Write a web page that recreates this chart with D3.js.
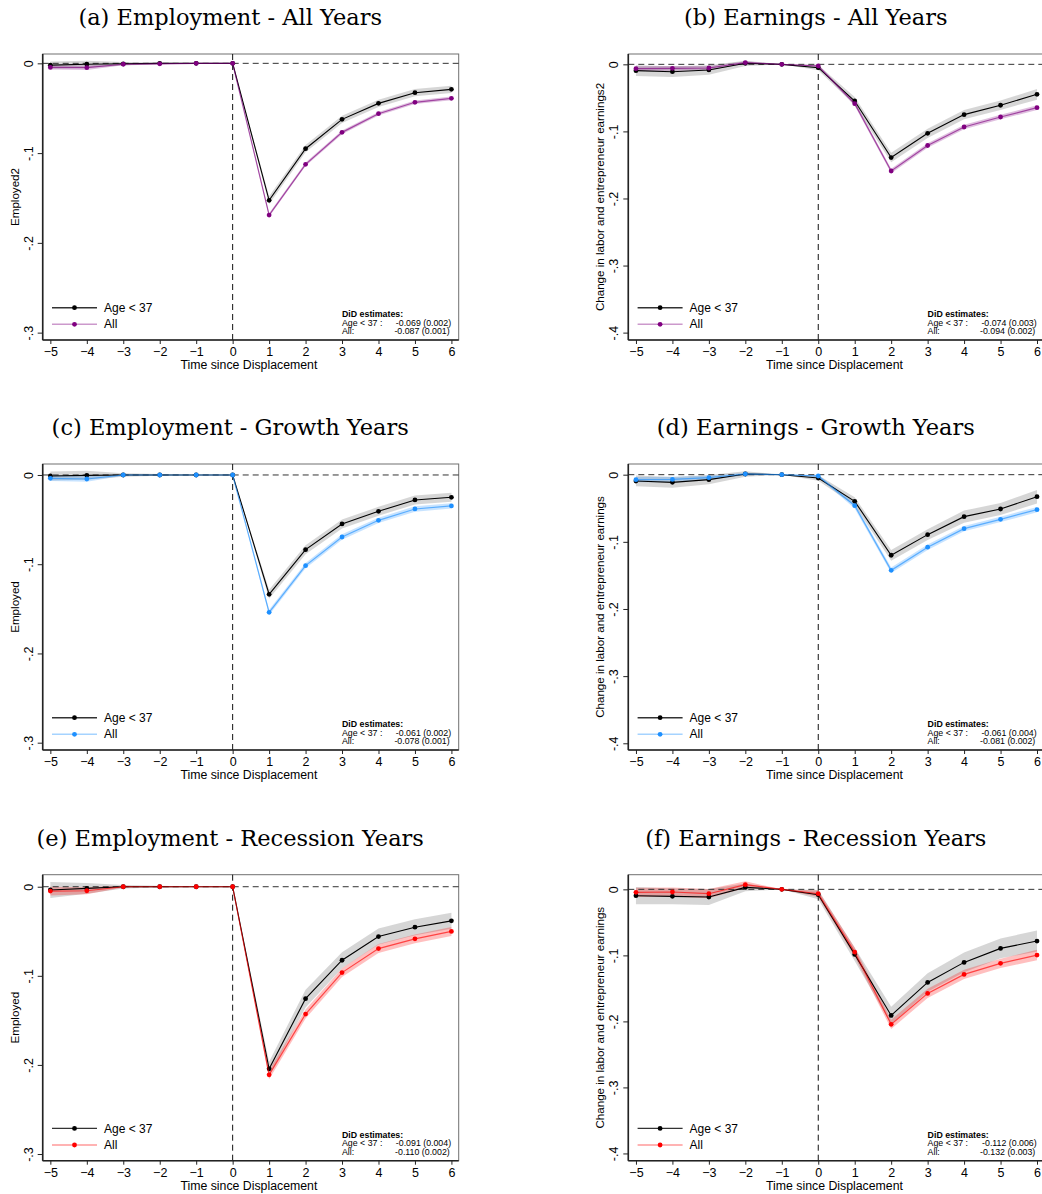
<!DOCTYPE html>
<html>
<head>
<meta charset="utf-8">
<script src="https://cdn.jsdelivr.net/npm/d3@7"></script>
<style>
  body { margin: 0; background: #fff; }
  text { font-family: "Liberation Sans", Arial, sans-serif; fill: #000; }
  .title { font-family: "DejaVu Serif", "Liberation Serif", serif; }
</style>
</head>
<body>
<svg id="chart" width="1042" height="1194"></svg>
<script>
// event time
const periods = [-5, -4, -3, -2, -1, 0, 1, 2, 3, 4, 5, 6];

// (a) Employment - All Years
const aYoung   = [-0.002, -0.001, -0.0005, 0, 0, 0, -0.1526, -0.0951, -0.0624, -0.0446, -0.0327, -0.029];
const aAll     = [-0.0045, -0.0048, -0.001, -0.0005, 0, 0, -0.169, -0.1125, -0.0769, -0.0561, -0.0434, -0.039];
const aYoungCI = [0.004, 0.004, 0.002, 0.001, 0.0005, 0, 0.0045, 0.004, 0.004, 0.004, 0.004, 0.004];
const aAllCI   = [0.0025, 0.0025, 0.001, 0.0005, 0, 0, 0.002, 0.002, 0.002, 0.002, 0.002, 0.002];

// (b) Earnings - All Years
const bYoung   = [-0.0094, -0.011, -0.0084, 0.0015, 0, -0.005, -0.0547, -0.139, -0.1029, -0.075, -0.061, -0.0447];
const bAll     = [-0.0065, -0.006, -0.0055, 0.0025, 0, -0.0025, -0.0586, -0.159, -0.121, -0.0934, -0.0785, -0.0646];
const bYoungCI = [0.008, 0.008, 0.007, 0.004, 0, 0.004, 0.006, 0.007, 0.007, 0.007, 0.007, 0.008];
const bAllCI   = [0.0035, 0.0035, 0.003, 0.002, 0, 0.002, 0.003, 0.0035, 0.0035, 0.0035, 0.0035, 0.0035];

// (c) Employment - Growth Years
const cYoung   = [-0.0011, -0.0004, 0, 0, 0, 0, -0.1337, -0.0837, -0.0549, -0.0407, -0.028, -0.025];
const cAll     = [-0.0037, -0.0045, 0, 0, 0, 0, -0.1539, -0.1016, -0.0695, -0.0508, -0.0381, -0.0347];
const cYoungCI = [0.005, 0.005, 0.002, 0.001, 0, 0, 0.005, 0.005, 0.005, 0.005, 0.005, 0.005];
const cAllCI   = [0.003, 0.003, 0.001, 0, 0, 0, 0.003, 0.003, 0.003, 0.003, 0.003, 0.003];

// (d) Earnings - Growth Years
const dYoung   = [-0.0094, -0.0114, -0.0074, 0.001, 0, -0.005, -0.0397, -0.12, -0.0893, -0.0625, -0.0511, -0.0328];
const dAll     = [-0.0074, -0.007, -0.0045, 0.001, 0, -0.002, -0.0462, -0.1424, -0.108, -0.0804, -0.0665, -0.0521];
const dYoungCI = [0.008, 0.008, 0.007, 0.004, 0, 0.004, 0.006, 0.008, 0.008, 0.009, 0.009, 0.01];
const dAllCI   = [0.004, 0.004, 0.003, 0.002, 0, 0.002, 0.004, 0.004, 0.004, 0.004, 0.004, 0.004];

// (e) Employment - Recession Years
const eYoung   = [-0.0037, -0.0019, 0, 0, 0, 0, -0.2044, -0.1256, -0.0825, -0.0559, -0.0454, -0.0383];
const eAll     = [-0.0049, -0.0045, 0, 0, 0, 0, -0.2111, -0.1429, -0.0964, -0.0694, -0.0585, -0.0502];
const eYoungCI = [0.009, 0.006, 0.002, 0.001, 0, 0, 0.008, 0.01, 0.009, 0.009, 0.009, 0.009];
const eAllCI   = [0.005, 0.004, 0.001, 0, 0, 0, 0.005, 0.005, 0.005, 0.005, 0.005, 0.005];

// (f) Earnings - Recession Years
const fYoung   = [-0.0096, -0.0106, -0.0116, 0.003, 0, -0.0081, -0.0985, -0.191, -0.141, -0.1106, -0.0894, -0.0783];
const fAll     = [-0.0045, -0.004, -0.0066, 0.0071, 0, -0.0066, -0.095, -0.2045, -0.1576, -0.1288, -0.1121, -0.0995];
const fYoungCI = [0.013, 0.012, 0.012, 0.006, 0, 0.007, 0.01, 0.013, 0.014, 0.015, 0.015, 0.016];
const fAllCI   = [0.007, 0.007, 0.007, 0.005, 0, 0.005, 0.007, 0.007, 0.007, 0.007, 0.007, 0.008];

const titles = ["(a) Employment - All Years", "(b) Earnings - All Years",
                "(c) Employment - Growth Years", "(d) Earnings - Growth Years",
                "(e) Employment - Recession Years", "(f) Earnings - Recession Years"];
const yTitles = ["Employed2", "Change in labor and entrepreneur earnings2",
                 "Employed", "Change in labor and entrepreneur earnings",
                 "Employed", "Change in labor and entrepreneur earnings"];
const didYoung = ["-0.069 (0.002)", "-0.074 (0.003)", "-0.061 (0.002)", "-0.061 (0.004)", "-0.091 (0.004)", "-0.112 (0.006)"];
const didAll   = ["-0.087 (0.001)", "-0.094 (0.002)", "-0.078 (0.001)", "-0.081 (0.002)", "-0.110 (0.002)", "-0.132 (0.003)"];

const empTicks = [0, -0.1, -0.2, -0.3];
const empTickLabels = ["0", "-.1", "-.2", "-.3"];
const earnTicks = [0, -0.1, -0.2, -0.3, -0.4];
const earnTickLabels = ["0", "-.1", "-.2", "-.3", "-.4"];

const seriesNames = ["Age < 37", "All"];

const panels = [
  { young: aYoung, all: aAll, youngCI: aYoungCI, allCI: aAllCI, color: "#800080", yDom: [-0.3082, 0.0104], ticks: empTicks, labels: empTickLabels },
  { young: bYoung, all: bAll, youngCI: bYoungCI, allCI: bAllCI, color: "#800080", yDom: [-0.411, 0.0154], ticks: earnTicks, labels: earnTickLabels },
  { young: cYoung, all: cAll, youngCI: cYoungCI, allCI: cAllCI, color: "#1e90ff", yDom: [-0.3082, 0.0123], ticks: empTicks, labels: empTickLabels },
  { young: dYoung, all: dAll, youngCI: dYoungCI, allCI: dAllCI, color: "#1e90ff", yDom: [-0.41, 0.0159], ticks: earnTicks, labels: earnTickLabels },
  { young: eYoung, all: eAll, youngCI: eYoungCI, allCI: eAllCI, color: "#ff0000", yDom: [-0.3075, 0.0135], ticks: empTicks, labels: empTickLabels },
  { young: fYoung, all: fAll, youngCI: fYoungCI, allCI: fAllCI, color: "#ff0000", yDom: [-0.411, 0.0222], ticks: earnTicks, labels: earnTickLabels }
];

const svg = d3.select("#chart");
const colLeft = [42.7, 628.3];
const rowTop = [54, 464, 874.7];
const plotW = 416, plotH = 286;

panels.forEach(function(p, i) {
  const g = svg.append("g")
    .attr("transform", `translate(${colLeft[i % 2]},${rowTop[Math.floor(i / 2)]})`);

  const x = d3.scaleLinear().domain([-5.21, 6.2]).range([0, plotW]);
  const y = d3.scaleLinear().domain(p.yDom).range([plotH, 0]);

  const pts = s => periods.map((t, k) => ({ t: t, v: s[k] }));
  const band = (s, ci) => periods.map((t, k) => ({ t: t, lo: s[k] - ci[k], hi: s[k] + ci[k] }));

  const area = d3.area().x(d => x(d.t)).y0(d => y(d.lo)).y1(d => y(d.hi));
  const line = d3.line().x(d => x(d.t)).y(d => y(d.v));

  // title
  g.append("text").attr("class", "title")
    .attr("x", 187.5).attr("y", -29)
    .attr("text-anchor", "middle")
    .style("font-size", "22.5px")
    .text(titles[i]);

  // frame (top, right)
  g.append("rect").attr("width", plotW).attr("height", plotH)
    .attr("fill", "none").attr("stroke", "#707070").attr("stroke-width", 1);

  // confidence bands
  g.append("path").datum(band(p.young, p.youngCI))
    .attr("d", area).attr("fill", "#c8c8c8").attr("fill-opacity", 0.75);
  g.append("path").datum(band(p.all, p.allCI))
    .attr("d", area).attr("fill", p.color).attr("fill-opacity", 0.25);

  // reference lines
  g.append("line").attr("x1", 0).attr("x2", plotW).attr("y1", y(0)).attr("y2", y(0))
    .attr("stroke", "#333").attr("stroke-width", 1).attr("stroke-dasharray", "6,4");
  g.append("line").attr("x1", x(0)).attr("x2", x(0)).attr("y1", 0).attr("y2", plotH)
    .attr("stroke", "#111").attr("stroke-width", 1).attr("stroke-dasharray", "6,4");

  // series: Age < 37
  g.append("path").datum(pts(p.young)).attr("d", line)
    .attr("fill", "none").attr("stroke", "#000").attr("stroke-width", 1.1);
  g.selectAll(".my").data(pts(p.young)).join("circle").attr("class", "my")
    .attr("cx", d => x(d.t)).attr("cy", d => y(d.v)).attr("r", 2.4).attr("fill", "#000");

  // series: All
  g.append("path").datum(pts(p.all)).attr("d", line)
    .attr("fill", "none").attr("stroke", p.color).attr("stroke-opacity", 0.65).attr("stroke-width", 1.2);
  g.selectAll(".ma").data(pts(p.all)).join("circle").attr("class", "ma")
    .attr("cx", d => x(d.t)).attr("cy", d => y(d.v)).attr("r", 2.4).attr("fill", p.color);

  // axes
  const yAxis = g.append("g")
    .call(d3.axisLeft(y).tickValues(p.ticks).tickFormat((d, k) => p.labels[k]).tickSize(5).tickSizeOuter(0));
  yAxis.select(".domain").attr("d", `M0,0V${plotH}`).attr("stroke", "#222").attr("stroke-width", 1.6);
  yAxis.selectAll(".tick line").attr("stroke", "#222");
  yAxis.selectAll(".tick text")
    .attr("x", null).attr("dy", "0.35em")
    .attr("text-anchor", "middle")
    .attr("transform", "translate(-14.4,0) rotate(-90)")
    .style("font-size", "12.5px").style("font-family", "Liberation Sans, Arial, sans-serif");

  const xAxis = g.append("g").attr("transform", `translate(0,${plotH})`)
    .call(d3.axisBottom(x).tickValues(periods).tickFormat(d3.format("d")).tickSize(4).tickSizeOuter(0).tickPadding(3));
  xAxis.select(".domain").attr("d", `M0,0H${plotW}`).attr("stroke", "#222").attr("stroke-width", 1.6);
  xAxis.selectAll(".tick line").attr("stroke", "#222");
  xAxis.selectAll(".tick text")
    .style("font-size", "12.5px").style("font-family", "Liberation Sans, Arial, sans-serif");

  g.append("text").attr("x", x(0.5) - 2).attr("y", plotH + 29)
    .attr("text-anchor", "middle").style("font-size", "12.3px")
    .text("Time since Displacement");

  g.append("text")
    .attr("transform", `translate(-28,${plotH / 2}) rotate(-90)`)
    .attr("text-anchor", "middle").attr("dy", "0.35em").style("font-size", "11.6px")
    .text(yTitles[i]);

  // legend
  const leg = g.append("g").attr("transform", `translate(9.3,${plotH - 32.3})`);
  [[0, "#333", 1, "#000"], [16.6, p.color, 0.4, p.color]].forEach(function(s, k) {
    leg.append("line").attr("x1", 0).attr("x2", 45).attr("y1", s[0]).attr("y2", s[0])
      .attr("stroke", s[1]).attr("stroke-opacity", s[2]).attr("stroke-width", 1.4);
    leg.append("circle").attr("cx", 22.5).attr("cy", s[0]).attr("r", 2.4).attr("fill", s[3]);
    leg.append("text").attr("x", 52).attr("y", s[0]).attr("dy", "0.35em")
      .style("font-size", "12px").text(seriesNames[k]);
  });

  // DiD box
  const did = g.append("g").style("font-size", "8.8px");
  did.append("text").attr("x", 299.3).attr("y", plotH - 26).attr("dy", "0.35em")
    .style("font-weight", "bold").text("DiD estimates:");
  did.append("text").attr("x", 299.3).attr("y", plotH - 17.3).attr("dy", "0.35em").text(seriesNames[0] + " :");
  did.append("text").attr("x", 408.4).attr("y", plotH - 17.3).attr("dy", "0.35em")
    .attr("text-anchor", "end").text(didYoung[i]);
  did.append("text").attr("x", 299.3).attr("y", plotH - 9).attr("dy", "0.35em").text(seriesNames[1] + ":");
  did.append("text").attr("x", 407).attr("y", plotH - 9).attr("dy", "0.35em")
    .attr("text-anchor", "end").text(didAll[i]);
});
</script>
</body>
</html>
